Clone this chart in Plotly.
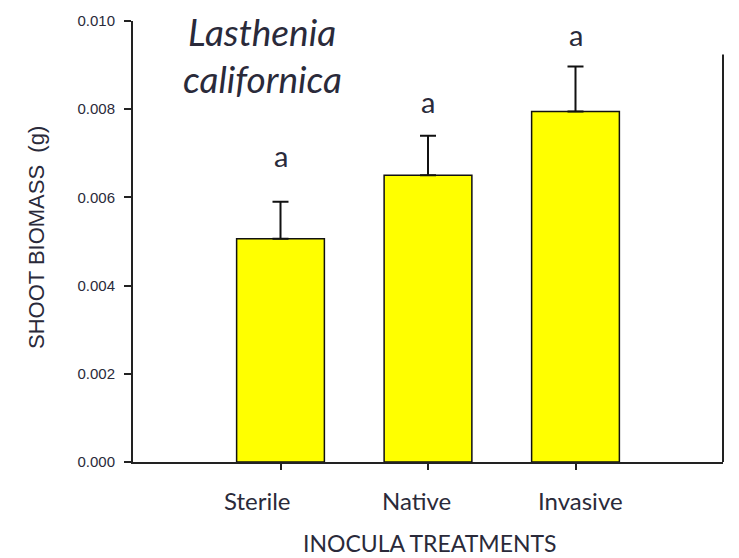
import plotly.graph_objects as go

categories = ["Sterile", "Native", "Invasive"]
biomass = [0.00506, 0.0065, 0.00795]
biomass_se = [0.00084, 0.0009, 0.00102]
letters = ["a", "a", "a"]
letter_shift = [34, 22, 19]
label_xshift = [-23, -12, 5]
y_ticks = [0.000, 0.002, 0.004, 0.006, 0.008, 0.010]
y_tick_labels = ["0.000", "0.002", "0.004", "0.006", "0.008", "0.010"]

x_pos = list(range(len(categories)))
TXT = "#2a2a3a"

fig = go.Figure()
fig.add_trace(go.Bar(
    x=x_pos, y=biomass,
    marker=dict(color="#FFFF00", line=dict(color="#111111", width=1.5)),
    width=0.595,
    error_y=dict(type="data", array=biomass_se, arrayminus=[0] * len(biomass),
                 symmetric=False, color="#111111", thickness=2, width=8),
    showlegend=False,
))

for xi, m, e, t, s in zip(x_pos, biomass, biomass_se, letters, letter_shift):
    fig.add_annotation(x=xi, y=m + e, text=t, showarrow=False, yanchor="bottom",
                       yshift=s - 7, font=dict(family="Lato, Open Sans", size=29, color=TXT))

for xi, lab, dx in zip(x_pos, categories, label_xshift):
    fig.add_annotation(x=xi, xref="x", yref="paper", y=(462 - 501) / 447, text=lab,
                       showarrow=False, xanchor="center", yanchor="middle", xshift=dx,
                       font=dict(family="Lato, Open Sans", size=24, color=TXT))

fig.add_annotation(xref="paper", yref="paper", x=(262 - 133) / 590, y=(462 - 26) / 447,
                   text="<i>Lasthenia</i>", showarrow=False, xanchor="center", yanchor="middle",
                   font=dict(family="Lato, Open Sans", size=37, color=TXT))
fig.add_annotation(xref="paper", yref="paper", x=(262 - 133) / 590, y=(462 - 73) / 447,
                   text="<i>californica</i>", showarrow=False, xanchor="center", yanchor="middle",
                   font=dict(family="Lato, Open Sans", size=37, color=TXT))

fig.add_annotation(xref="paper", yref="paper", x=(430 - 133) / 590, y=(462 - 544) / 447,
                   text="INOCULA TREATMENTS", showarrow=False, xanchor="center", yanchor="middle",
                   font=dict(family="Lato, Open Sans", size=23, color=TXT))
fig.add_annotation(xref="paper", yref="paper", x=(36 - 133) / 590, y=(462 - 235) / 447,
                   text="SHOOT BIOMASS  (g)", showarrow=False, textangle=-90,
                   xanchor="center", yanchor="middle",
                   font=dict(family="Liberation Sans, Arial", size=22, color=TXT))

fig.add_shape(type="line", xref="paper", yref="paper", x0=1, x1=1, y0=0, y1=(462 - 49) / 447,
              line=dict(color="#222222", width=2))

fig.update_xaxes(range=[-1, 3], tickvals=x_pos, ticktext=[""] * len(categories),
                 showline=True, linecolor="#222222", linewidth=2,
                 ticks="outside", ticklen=6, tickwidth=1.5, tickcolor="#222222",
                 showgrid=False, zeroline=False)
fig.update_yaxes(range=[0, 0.010], tickvals=y_ticks, ticktext=y_tick_labels,
                 showline=True, linecolor="#222222", linewidth=2,
                 ticks="outside", ticklen=7, tickwidth=2, tickcolor="#222222",
                 ticklabelstandoff=6,
                 showgrid=False, zeroline=False,
                 tickfont=dict(family="Liberation Sans Narrow, Liberation Sans", size=15, color=TXT))

fig.update_layout(width=739, height=558, margin=dict(l=133, r=16, t=15, b=96),
                  plot_bgcolor="white", paper_bgcolor="white")

fig.write_html("out.html", config={"displayModeBar": False},
               post_script="document.body.style.margin='0';")
